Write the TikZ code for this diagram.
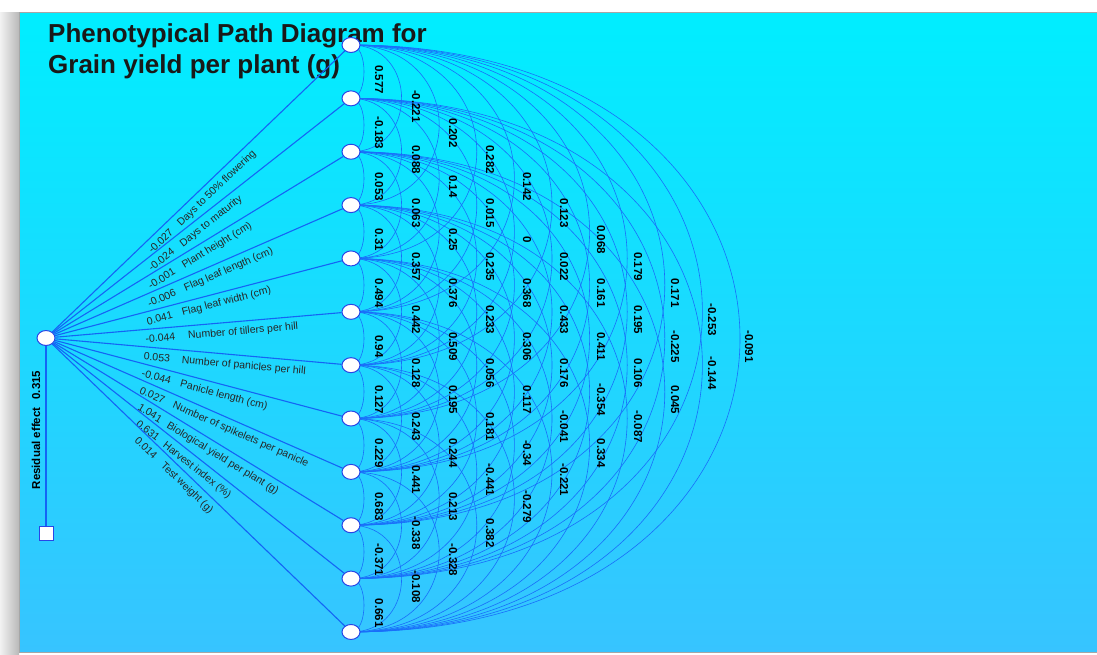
\documentclass[tikz,border=0pt]{standalone}
\usepackage{fontspec}
\setmainfont{Liberation Sans}
\usetikzlibrary{backgrounds,shapes.geometric}

\definecolor{linkblue}{RGB}{20,100,245}
\definecolor{arcblue}{RGB}{25,110,250}
\definecolor{nodeblue}{RGB}{40,70,230}
\definecolor{paneltop}{RGB}{0,238,255}
\definecolor{panelbot}{RGB}{55,196,255}

\begin{document}
\begin{tikzpicture}[x=1pt, y=-1pt,
        trait/.style={ellipse, draw=nodeblue, fill=white, line width=1pt,
        minimum width=18pt, minimum height=15pt, inner sep=0pt},
        resid/.style={rectangle, draw=nodeblue, fill=white, line width=1pt,
        minimum size=14pt, inner sep=0pt},
        effect/.style={draw=linkblue, line width=1.1pt},
        corr/.style={draw=arcblue, line width=0.6pt},
        pathlab/.style={sloped, anchor=north west, pos=0.31, inner xsep=0pt, inner ysep=5pt,
        font=\fontsize{10.5}{12}\selectfont, text=black!85},
        corrlab/.style={rotate=-90, inner sep=0pt, font=\bfseries\fontsize{11.5}{13}\selectfont},
        title/.style={anchor=north west, align=left, inner sep=0pt,
        font=\bfseries\fontsize{26}{31}\selectfont, text=black!90}
    ]
    \useasboundingbox (0,0) rectangle (1097,654);
    \begin{scope}[on background layer]
        \fill[white] (0,0) rectangle (1097,654);
        \shade[left color=gray!10, right color=gray!55] (0,12) rectangle (19,654);
        \shade[top color=paneltop, bottom color=panelbot, draw=gray!70] (19,12) rectangle (1097,652);
    \end{scope}

    \node[title] (title) at (48,23) {Phenotypical Path Diagram for\\Grain yield per plant (g)};

    % traits
    \node[trait] (root) at (46,338) {};
    \foreach \i in {1,...,12}
        \node[trait] (n\i) at (351,{45+53.36*(\i-1)}) {};
    \node[resid] (res) at (46,533) {};

    % direct effects
    \foreach \i/\txt in {1/{-0.027\hspace{10pt}Days to 50\% flowering},
                         2/{-0.024\hspace{10pt}Days to maturity},
                         3/{-0.001\hspace{10pt}Plant height (cm)},
                         4/{-0.006\hspace{10pt}Flag leaf length (cm)},
                         5/{0.041\hspace{10pt}Flag leaf width (cm)},
                         6/{-0.044\hspace{13pt}Number of tillers per hill},
                         7/{0.053\hspace{12pt}Number of panicles per hill},
                         8/{-0.044\hspace{10pt}Panicle length (cm)},
                         9/{0.027\hspace{10pt}Number of spikelets per panicle},
                         10/{1.041\hspace{8pt}Biological yield per plant (g)},
                         11/{0.631\hspace{8pt}Harvest index (\%)},
                         12/{0.014\hspace{10pt}Test weight (g)}}
        \draw[effect] (root) -- node[pathlab] {\txt} (n\i);

    \draw[effect] (root) -- (res);
    \node[rotate=90, inner sep=0pt, font=\bfseries\fontsize{11.5}{13}\selectfont] (reslab) at (36,430)
        {Residual effect\hspace{8pt}0.315};

    % correlations
    \foreach \dist/\vals in {1/{0.577,-0.183,0.053,0.31,0.494,0.94,0.127,0.229,0.683,-0.371,0.661},
                             2/{-0.221,0.088,0.063,0.357,0.442,0.128,0.243,0.441,-0.338,-0.108},
                             3/{0.202,0.14,0.25,0.376,0.509,0.195,0.244,0.213,-0.328},
                             4/{0.282,0.015,0.235,0.233,0.056,0.181,-0.441,0.382},
                             5/{0.142,0,0.368,0.306,0.117,-0.34,-0.279},
                             6/{0.123,0.022,0.433,0.176,-0.041,-0.221},
                             7/{0.068,0.161,0.411,-0.354,0.334},
                             8/{0.179,0.195,0.106,-0.087},
                             9/{0.171,-0.225,0.045},
                             10/{-0.253,-0.144},
                             11/{-0.091}} {
        \foreach \val [count=\i] in \vals {
            \pgfmathtruncatemacro\j{\i+\dist}
            \pgfmathsetmacro\ctrl{4*(37.6*\dist-24.6)/3}
            \begin{pgfonlayer}{background}
                \draw[corr] (n\i.center) .. controls +(\ctrl,0) and +(\ctrl,0) .. (n\j.center);
            \end{pgfonlayer}
            \node[corrlab] (r\i-\j) at ({342+37*\dist},{53+53.36*(\i-1+\dist/2)}) {\val};
        }
    }
\end{tikzpicture}
\end{document}
